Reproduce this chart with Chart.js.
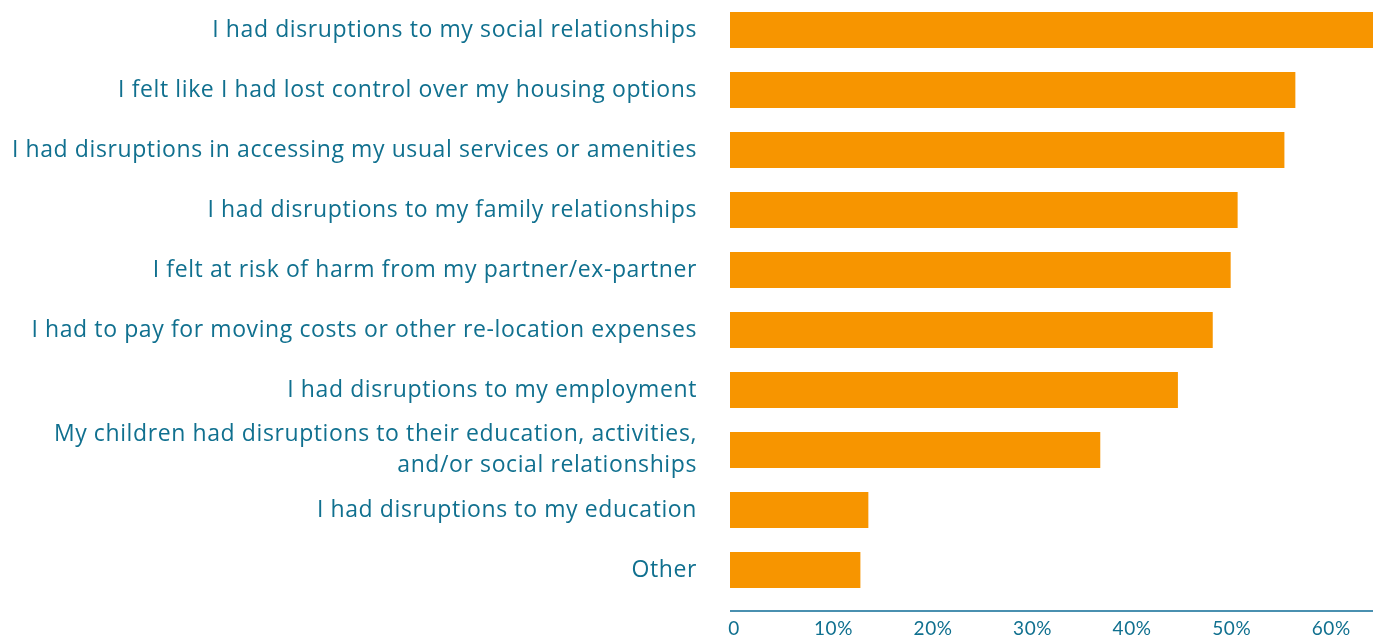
<!DOCTYPE html>
<html lang="en">
<head>
<meta charset="UTF-8">
<title>Disruptions</title>
<script src="https://cdn.jsdelivr.net/npm/chart.js@4"></script>
<style>
  html, body { margin: 0; padding: 0; background: #fff; }
  #wrap { width: 1373px; height: 637px; position: relative; }
</style>
</head>
<body>
<div id="wrap"><canvas id="myChart"></canvas></div>
<script>
const categories = [
    'I had disruptions to my social relationships',
    'I felt like I had lost control over my housing options',
    'I had disruptions in accessing my usual services or amenities',
    'I had disruptions to my family relationships',
    'I felt at risk of harm from my partner/ex-partner',
    'I had to pay for moving costs or other re-location expenses',
    'I had disruptions to my employment',
    ['My children had disruptions to their education, activities,', 'and/or social relationships'],
    'I had disruptions to my education',
    'Other'
];
const percentages = [64.6, 56.8, 55.7, 51.0, 50.3, 48.5, 45.0, 37.2, 13.9, 13.1];
const tickValues = [0, 10, 20, 30, 40, 50, 60];

const textColor = '#10708f';
const axisColor = '#4a90b0';
const barColor = '#f79500';

// axis line sits a little below the last bar, wider text spacing like the original font
const axisLine = {
    id: 'axisLine',
    beforeDraw(chart) {
        chart.ctx.letterSpacing = '0.6px';
    },
    afterDraw(chart) {
        const ctx = chart.ctx;
        const area = chart.chartArea;
        ctx.save();
        ctx.strokeStyle = axisColor;
        ctx.lineWidth = 2;
        ctx.beginPath();
        ctx.moveTo(area.left, area.bottom + 11);
        ctx.lineTo(area.right, area.bottom + 11);
        ctx.stroke();
        ctx.restore();
    }
};

const ctx = document.getElementById('myChart').getContext('2d');
const myChart = new Chart(ctx, {
    type: 'bar',
    data: {
        labels: categories,
        datasets: [{
            data: percentages,
            backgroundColor: barColor,
            borderWidth: 0,
            barPercentage: 0.6,
            categoryPercentage: 1
        }]
    },
    options: {
        indexAxis: 'y',
        responsive: true,
        maintainAspectRatio: false,
        animation: false,
        layout: { padding: 0 },
        plugins: {
            legend: { display: false },
            tooltip: { enabled: false }
        },
        scales: {
            x: {
                min: 0,
                max: 64.6,
                grid: { display: false, drawTicks: false },
                border: { display: false },
                afterFit(scale) {
                    scale.height = 37;
                    scale.paddingLeft = 0;
                    scale.paddingRight = 0;
                },
                afterBuildTicks(scale) {
                    scale.ticks = tickValues.map(v => ({ value: v }));
                },
                ticks: {
                    color: textColor,
                    font: { family: 'Lato', size: 19 },
                    padding: 17,
                    labelOffset: 4,
                    maxRotation: 0,
                    callback: v => v === 0 ? '0' : v + '%'
                }
            },
            y: {
                grid: { display: false, drawTicks: false },
                border: { display: false },
                afterFit(scale) {
                    scale.width = 730;
                    scale.paddingTop = 0;
                    scale.paddingBottom = 0;
                },
                ticks: {
                    color: textColor,
                    font: { family: 'Open Sans', size: 23, lineHeight: 1.35 },
                    padding: 33,
                    autoSkip: false
                }
            }
        }
    },
    plugins: [axisLine]
});
</script>
</body>
</html>
